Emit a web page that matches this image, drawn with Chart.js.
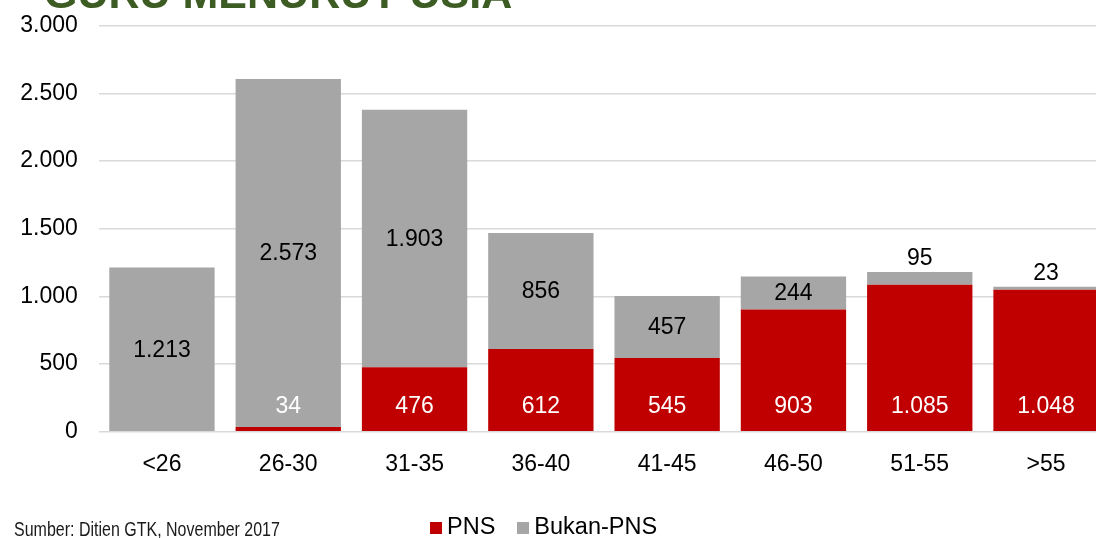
<!DOCTYPE html>
<html>
<head>
<meta charset="utf-8">
<script src="https://cdn.jsdelivr.net/npm/chart.js@4.4.1/dist/chart.umd.min.js"></script>
<style>
  html, body { margin: 0; padding: 0; width: 1096px; height: 538px; overflow: hidden; background: #fff; }
  #wrap { position: absolute; left: 0; top: 0; width: 1115px; height: 538px; }
  #title { position: absolute; left: 44px; top: -28px; font: bold 43px/43px "Liberation Sans", Arial, sans-serif; color: #3d5c23; white-space: nowrap; }
  #source { position: absolute; left: 14px; top: 519px; font: 20px/20px "Liberation Sans", Arial, sans-serif; color: #1a1a1a; white-space: nowrap; transform: scaleX(0.8); transform-origin: left top; }
  #legend { position: absolute; left: 430px; top: 515px; font: 23.5px/23px "Liberation Sans", Arial, sans-serif; color: #000; white-space: nowrap; }
  #legend span.item { display: inline-block; margin-right: 22px; }
  #legend span.box { display: inline-block; width: 12px; height: 12px; margin-right: 5px; vertical-align: 0px; }
</style>
</head>
<body>
<div id="wrap"><canvas id="c" width="1115" height="538"></canvas></div>
<div id="title">GURU MENURUT USIA</div>
<div id="source">Sumber: Ditien GTK, November 2017</div>
<div id="legend"></div>
<script>
const categories = ['<26', '26-30', '31-35', '36-40', '41-45', '46-50', '51-55', '>55'];
const pnsValues = [0, 34, 476, 612, 545, 903, 1085, 1048];
const bukanPnsValues = [1213, 2573, 1903, 856, 457, 244, 95, 23];
const seriesNames = ['PNS', 'Bukan-PNS'];
const seriesColors = ['#c00000', '#a6a6a6'];
const yTickStep = 500;
const yMax = 3000;

function fmt(v) {
  return String(v).replace(/\B(?=(\d{3})+(?!\d))/g, '.');
}

const FONT = '"Liberation Sans", Arial, sans-serif';

const valueLabels = {
  id: 'valueLabels',
  afterDatasetsDraw(chart) {
    const ctx = chart.ctx;
    ctx.save();
    ctx.font = '23px ' + FONT;
    ctx.textAlign = 'center';
    ctx.textBaseline = 'middle';
    chart.data.datasets.forEach((ds, di) => {
      const meta = chart.getDatasetMeta(di);
      meta.data.forEach((bar, i) => {
        const v = ds.data[i];
        if (!v) return;
        let y;
        if (di === 0) {
          y = bar.base - 25;
          ctx.fillStyle = '#ffffff';
        } else {
          const h = bar.base - bar.y;
          y = h < 25 ? bar.y - 14.5 : (bar.y + bar.base) / 2;
          ctx.fillStyle = '#000000';
        }
        ctx.fillText(fmt(v), bar.x, y + 1);
      });
    });
    ctx.restore();
  }
};

new Chart(document.getElementById('c'), {
  type: 'bar',
  data: {
    labels: categories,
    datasets: [
      { label: seriesNames[0], data: pnsValues, backgroundColor: seriesColors[0], borderWidth: 0 },
      { label: seriesNames[1], data: bukanPnsValues, backgroundColor: seriesColors[1], borderWidth: 0 }
    ]
  },
  options: {
    responsive: false,
    animation: false,
    devicePixelRatio: 1,
    layout: { padding: { top: 25.7, right: 5.8, left: 0, bottom: 0 } },
    datasets: { bar: { barPercentage: 0.834, categoryPercentage: 1 } },
    plugins: { legend: { display: false }, tooltip: { enabled: false }, title: { display: false } },
    scales: {
      x: {
        stacked: true,
        grid: { display: false, drawTicks: false },
        border: { display: false },
        ticks: { color: '#000', font: { family: FONT, size: 23 }, padding: 19, maxRotation: 0 },
        afterFit(scale) { scale.height = 538 - 431.7; scale.paddingLeft = 0; scale.paddingRight = 0; }
      },
      y: {
        stacked: true,
        min: 0,
        max: yMax,
        grid: { color: '#d9d9d9', lineWidth: 1.6, drawTicks: false },
        border: { display: false },
        ticks: { stepSize: yTickStep, color: '#000', font: { family: FONT, size: 23 }, padding: 21, callback: (v) => fmt(v) },
        afterFit(scale) { scale.width = 98.8; scale.paddingTop = 0; scale.paddingBottom = 0; }
      }
    }
  },
  plugins: [valueLabels]
});

const legend = document.getElementById('legend');
seriesNames.forEach((name, i) => {
  const item = document.createElement('span');
  item.className = 'item';
  const box = document.createElement('span');
  box.className = 'box';
  box.style.background = seriesColors[i];
  item.appendChild(box);
  item.appendChild(document.createTextNode(name));
  legend.appendChild(item);
});
</script>
</body>
</html>
